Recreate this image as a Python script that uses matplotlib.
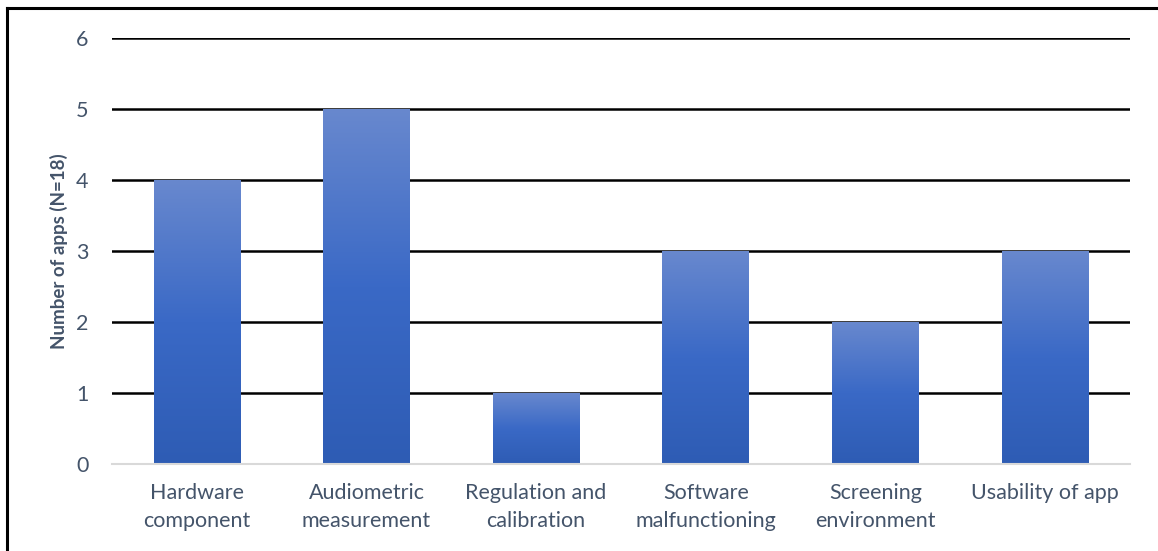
import numpy as np
import matplotlib.pyplot as plt
from matplotlib.colors import LinearSegmentedColormap
from matplotlib.lines import Line2D

# dados
categorias = ['Hardware\ncomponent', 'Audiometric\nmeasurement', 'Regulation and\ncalibration',
              'Software\nmalfunctioning', 'Screening\nenvironment', 'Usability of app']
n_apps = [4, 5, 1, 3, 2, 3]
y_ticks = [0, 1, 2, 3, 4, 5, 6]

plt.rcParams['font.family'] = ['Lato', 'DejaVu Sans']
cor_texto = '#44546A'

fig = plt.figure(figsize=(11.58, 5.51), dpi=100)
ax = fig.add_axes([0.0967, 0.158, 0.879, 0.773])

x = np.arange(len(categorias))
barras = ax.bar(x, n_apps, width=0.51, color='none', zorder=3)

# gradiente vertical em cada barra
cmap = LinearSegmentedColormap.from_list('grad', ['#2E5CB4', '#3A69C6', '#6888CE'])
grad = np.linspace(0, 1, 256).reshape(-1, 1)
for b in barras:
    x0, y0 = b.get_x(), b.get_y()
    w, h = b.get_width(), b.get_height()
    im = ax.imshow(grad, cmap=cmap, origin='lower', aspect='auto',
                   extent=[x0, x0 + w, y0, y0 + h], zorder=3)
    im.set_clip_path(b)

ax.set_xlim(-0.5, len(categorias) - 0.5)
ax.set_ylim(0, 6)
ax.set_yticks(y_ticks)
ax.set_xticks(x)
ax.set_xticklabels(categorias, fontsize=15.5, color=cor_texto, linespacing=1.45)
ax.set_yticklabels([str(v) for v in y_ticks], fontsize=15.5, color=cor_texto)
ax.tick_params(length=0, pad=17)
ax.tick_params(axis='x', pad=14)

ax.yaxis.grid(True, color='black', linewidth=1.8, zorder=1)
ax.set_axisbelow(True)
for s in ['top', 'right', 'left']:
    ax.spines[s].set_visible(False)
ax.spines['bottom'].set_color('#D9D9D9')
ax.spines['bottom'].set_linewidth(1.5)
ax.spines['bottom'].set_zorder(4)

ax.set_ylabel('Number of apps (N=18)', fontsize=13.5, fontweight='bold', color=cor_texto, labelpad=6)

# moldura (só topo e esquerda aparecem no recorte)
fig.add_artist(Line2D([7 / 1158, 7 / 1158], [0, 1 - 8 / 551], transform=fig.transFigure, color='black', lw=2.2))
fig.add_artist(Line2D([7 / 1158, 1], [1 - 8 / 551, 1 - 8 / 551], transform=fig.transFigure, color='black', lw=2.2))

fig.savefig('out.png', dpi=100)
